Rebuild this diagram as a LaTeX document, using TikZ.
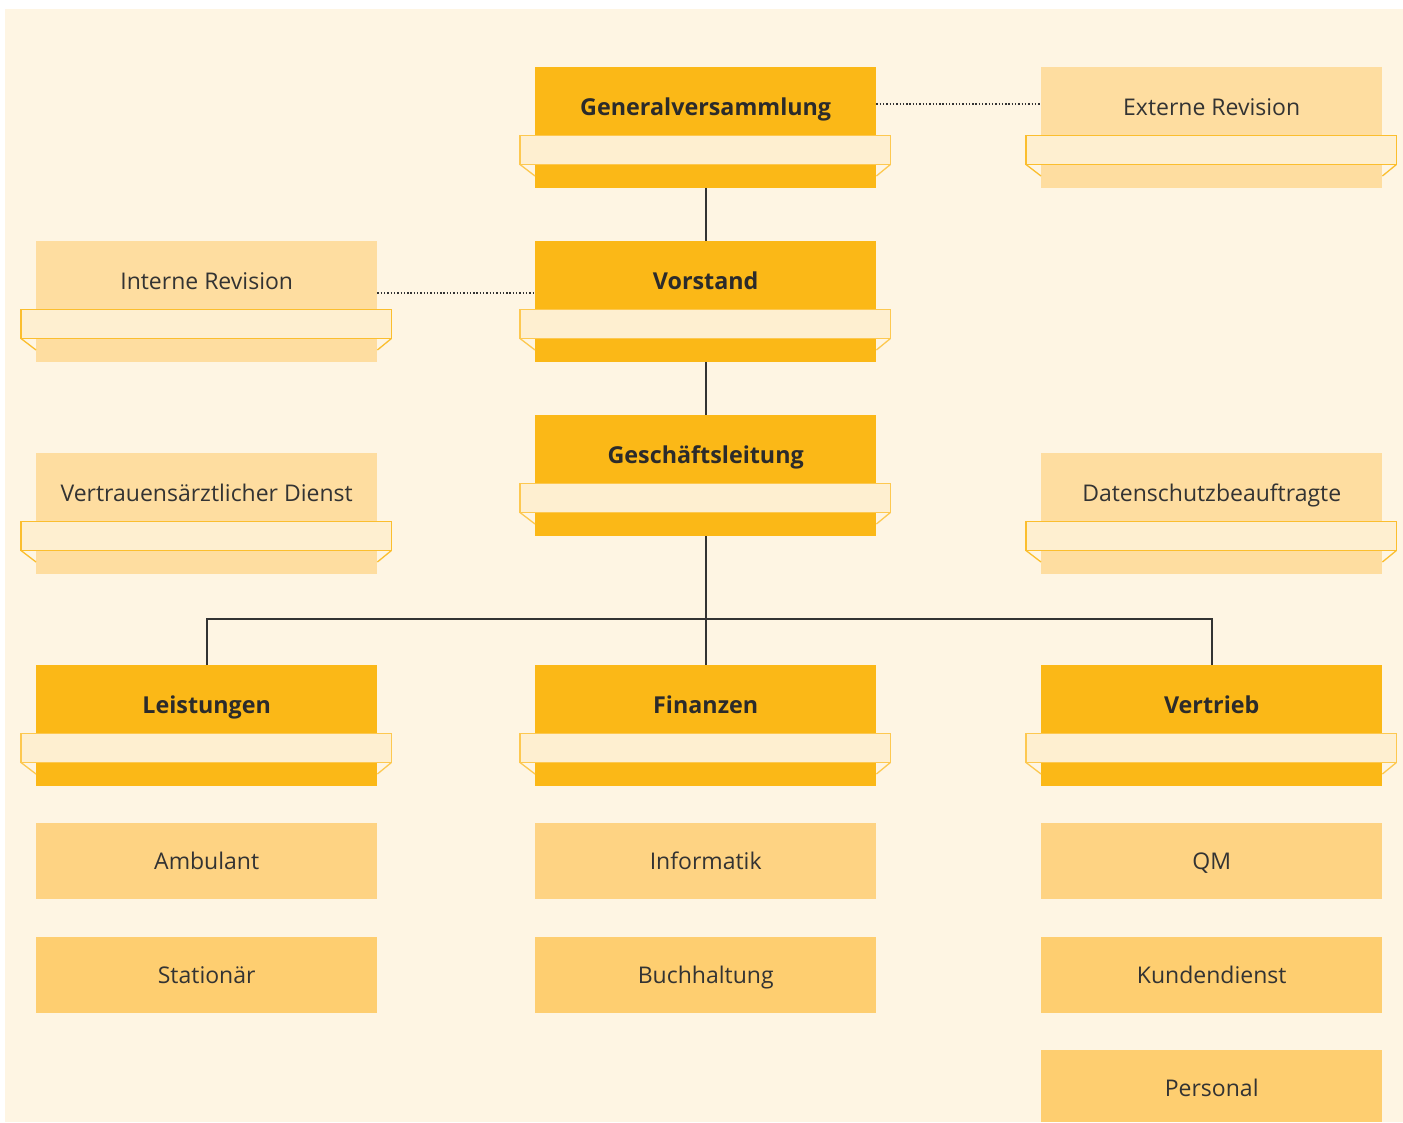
\documentclass[tikz,border=0pt]{standalone}
\usepackage{fontspec}
\setmainfont{Open Sans}
\usetikzlibrary{calc}
\definecolor{bgc}{HTML}{FEF5E3}
\definecolor{darkc}{HTML}{FBB817}
\definecolor{lightc}{HTML}{FEDDA0}
\definecolor{bannerc}{HTML}{FEEFD0}
\definecolor{bdarkline}{HTML}{FDC850}
\definecolor{blightline}{HTML}{FBBE2E}
\definecolor{subc}{HTML}{FED383}
\definecolor{subd}{HTML}{FECE70}
\definecolor{txtc}{HTML}{333333}
\definecolor{linec}{HTML}{333333}
\newcommand\mybanner[2]{%
  \draw[#2, line width=1.3pt, fill=bannerc] ($(#1.north west)+(-15,68.5)$) rectangle ($(#1.north east)+(14,97.5)$);
  \draw[#2, line width=1.3pt] ($(#1.north west)+(-15,97.5)$) -- ($(#1.north west)+(0,109)$);
  \draw[#2, line width=1.3pt] ($(#1.north east)+(14,97.5)$) -- ($(#1.north east)+(0,109)$);}
\begin{document}
\begin{tikzpicture}[x=1pt,y=-1pt,
  box/.style={rectangle, inner sep=0pt, minimum width=341pt, minimum height=121pt, anchor=north west},
  darkbox/.style={box, fill=darkc},
  lightbox/.style={box, fill=lightc},
  subbox/.style={rectangle, inner sep=0pt, minimum width=341pt, minimum height=76pt, anchor=north west, fill=subd},
  lbl/.style={anchor=base, text=txtc, font=\fontsize{23}{27}\selectfont, inner sep=0pt},
  blbl/.style={anchor=base, text=txtc!85!black, font=\fontsize{23.3}{27}\selectfont\bfseries, inner sep=0pt},
  conn/.style={draw=linec, line width=1.6pt},
  dots/.style={draw=linec, line width=1.4pt, dash pattern=on 1.4pt off 1.9pt}]
\useasboundingbox (0,0) rectangle (1403,1122);
\fill[bgc] (5,9) rectangle (1403,1122);
% main boxes
\node[darkbox] (gv) at (535,67) {};
\node[lightbox] (ext) at (1041,67) {};
\node[lightbox] (ir) at (36,241) {};
\node[darkbox] (vs) at (535,241) {};
\node[darkbox] (gl) at (535,415) {};
\node[lightbox] (vad) at (36,453) {};
\node[lightbox] (ds) at (1041,453) {};
\node[darkbox] (lei) at (36,665) {};
\node[darkbox] (fin) at (535,665) {};
\node[darkbox] (ver) at (1041,665) {};
% banners
\mybanner{gv}{bdarkline}
\mybanner{ext}{blightline}
\mybanner{ir}{blightline}
\mybanner{vs}{bdarkline}
\mybanner{gl}{bdarkline}
\mybanner{vad}{blightline}
\mybanner{ds}{blightline}
\mybanner{lei}{bdarkline}
\mybanner{fin}{bdarkline}
\mybanner{ver}{bdarkline}
% labels
\node[blbl] (gv-t) at ($(gv.north)+(0,48.5)$) {Generalversammlung};
\node[lbl] (ext-t) at ($(ext.north)+(0,48.5)$) {Externe Revision};
\node[lbl] (ir-t) at ($(ir.north)+(0,48.5)$) {Interne Revision};
\node[blbl] (vs-t) at ($(vs.north)+(0,48.5)$) {Vorstand};
\node[blbl] (gl-t) at ($(gl.north)+(0,48.5)$) {Geschäftsleitung};
\node[lbl] (vad-t) at ($(vad.north)+(0,48.5)$) {Vertrauensärztlicher Dienst};
\node[lbl] (ds-t) at ($(ds.north)+(0,48.5)$) {Datenschutzbeauftragte};
\node[blbl] (lei-t) at ($(lei.north)+(0,48.5)$) {Leistungen};
\node[blbl] (fin-t) at ($(fin.north)+(0,48.5)$) {Finanzen};
\node[blbl] (ver-t) at ($(ver.north)+(0,48.5)$) {Vertrieb};
% sub boxes
\node[subbox, fill=subc] (amb) at (36,823) {};
\node[subbox, fill=subc] (inf) at (535,823) {};
\node[subbox, fill=subc] (qm) at (1041,823) {};
\node[subbox] (sta) at (36,937) {};
\node[subbox] (buch) at (535,937) {};
\node[subbox] (kd) at (1041,937) {};
\node[subbox, minimum height=72pt] (pers) at (1041,1050) {};
\node[lbl] (amb-t) at ($(amb.north)+(0,46.5)$) {Ambulant};
\node[lbl] (inf-t) at ($(inf.north)+(0,46.5)$) {Informatik};
\node[lbl] (qm-t) at ($(qm.north)+(0,46.5)$) {QM};
\node[lbl] (sta-t) at ($(sta.north)+(0,46.5)$) {Stationär};
\node[lbl] (buch-t) at ($(buch.north)+(0,46.5)$) {Buchhaltung};
\node[lbl] (kd-t) at ($(kd.north)+(0,46.5)$) {Kundendienst};
\node[lbl] (pers-t) at ($(pers.north)+(0,46.5)$) {Personal};
% connectors
\draw[conn] (gv.south) -- (vs.north);
\draw[conn] (vs.south) -- (gl.north);
\draw[conn] (gl.south) -- (fin.north);
\coordinate (bus) at (705.5,619);
\draw[conn] (lei.north) |- (bus) -| (ver.north);
% dotted
\draw[dots] ($(gv.north east)+(0,37)$) -- ($(ext.north west)+(0,37)$);
\draw[dots] ($(ir.north east)+(0,52)$) -- ($(vs.north west)+(0,52)$);
\end{tikzpicture}
\end{document}
